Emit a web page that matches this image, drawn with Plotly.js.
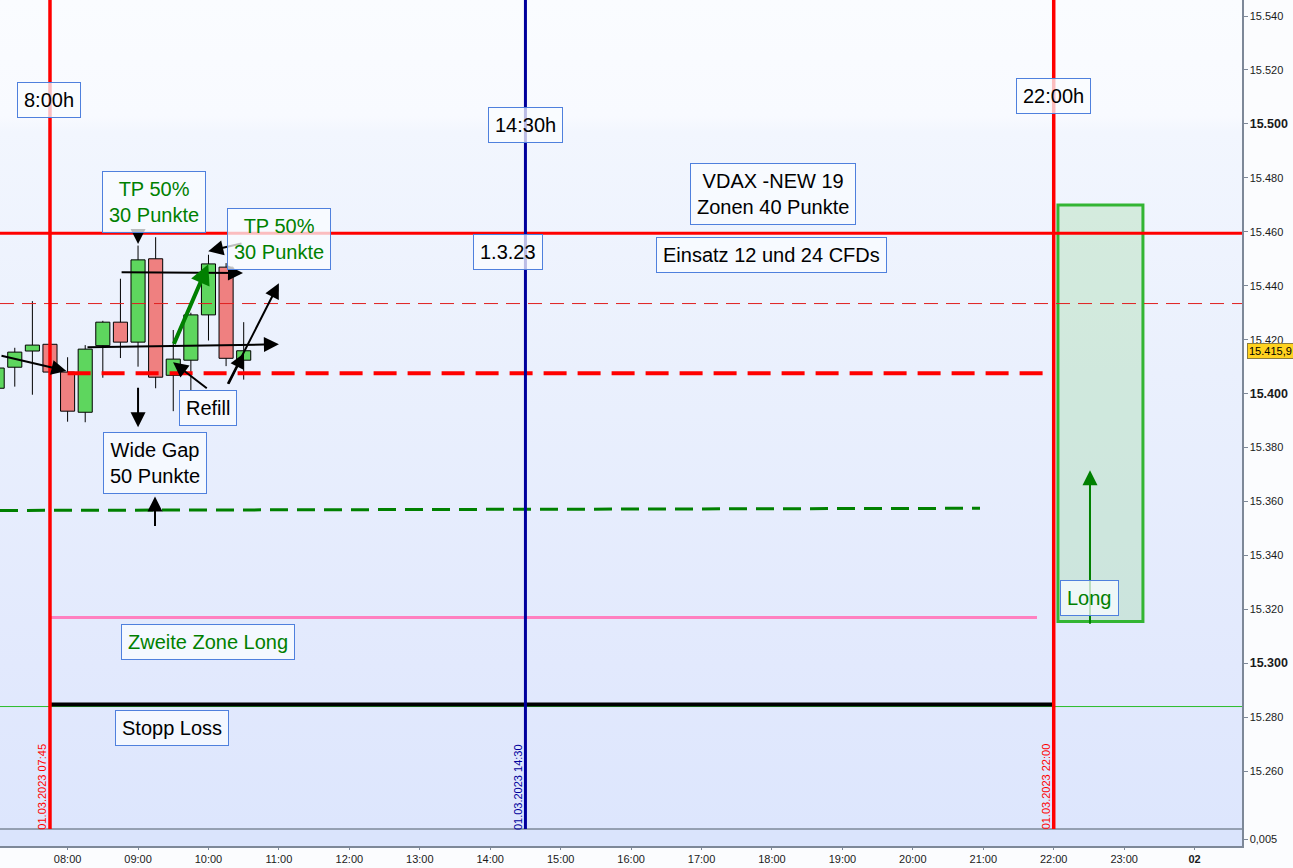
<!DOCTYPE html>
<html><head><meta charset="utf-8">
<script src="https://cdn.plot.ly/plotly-3.0.1.min.js"></script>
<style>
body{margin:0;background:#fbfcfe;}
#wrap{position:relative;width:1293px;height:868px;overflow:hidden;background:#fbfcfe;}
#bg{position:absolute;left:0;top:0;width:1242px;height:829px;background:linear-gradient(to bottom,#fafcff 0%,#f8faff 14%,#f2f6fe 16%,#eaf0fd 45%,#e2e9fd 80%,#dde6fd 100%);}
#bg2{position:absolute;left:0;top:829px;width:1242px;height:17px;background:#dae4fc;}
#chart{position:absolute;left:0;top:0;width:1293px;height:868px;}
</style></head>
<body><div id="wrap"><div id="bg"></div><div id="bg2"></div><div id="chart"></div></div>
<script>
// ---- data ----
const candleTimes = ['2023-03-01 07:00','2023-03-01 07:15','2023-03-01 07:30','2023-03-01 07:45','2023-03-01 08:00','2023-03-01 08:15','2023-03-01 08:30','2023-03-01 08:45','2023-03-01 09:00','2023-03-01 09:15','2023-03-01 09:30','2023-03-01 09:45','2023-03-01 10:00','2023-03-01 10:15','2023-03-01 10:30'];
const opens  = [15402.0,15409.8,15415.8,15418.3,15408.0,15393.1,15417.8,15426.5,15419.1,15450.0,15406.8,15412.4,15429.2,15446.9,15412.4];
const highs  = [15411.0,15417.0,15434.3,15420.0,15413.5,15418.0,15427.0,15442.6,15454.9,15458.0,15423.6,15430.0,15451.5,15448.4,15426.5];
const lows   = [15398.0,15402.6,15399.6,15406.0,15389.6,15389.4,15405.9,15413.2,15410.0,15402.0,15393.5,15401.0,15419.7,15410.2,15405.2];
const closes = [15409.5,15415.4,15418.0,15408.0,15393.5,15416.5,15426.5,15419.1,15449.6,15406.1,15412.8,15429.2,15448.1,15413.1,15415.9];

const yTickVals = [15260,15280,15300,15320,15340,15360,15380,15400,15420,15440,15460,15480,15500,15520,15540];
const B = s => '<span style="font-size:12.5px"><b>' + s + '</b></span>';
const yTickText = ['15.260','15.280',B('15.300'),'15.320','15.340','15.360','15.380',B('15.400'),'15.420','15.440','15.460','15.480',B('15.500'),'15.520','15.540'];
const xTickVals = ['2023-03-01 08:00','2023-03-01 09:00','2023-03-01 10:00','2023-03-01 11:00','2023-03-01 12:00','2023-03-01 13:00','2023-03-01 14:00','2023-03-01 15:00','2023-03-01 16:00','2023-03-01 17:00','2023-03-01 18:00','2023-03-01 19:00','2023-03-01 20:00','2023-03-01 21:00','2023-03-01 22:00','2023-03-01 23:00','2023-03-02 00:00'];
const xTickText = ['08:00','09:00','10:00','11:00','12:00','13:00','14:00','15:00','16:00','17:00','18:00','19:00','20:00','21:00','22:00','23:00','<b>02</b>'];

const lastPrice = 15415.9;
const resistanceLevel = 15459.5;
const thinRedLevel = 15433.4;
const gapLevel = 15407.6;
const greenZoneLevels = [15356.7, 15357.5];
const secondZoneLevel = 15317.0;
const stopLossLevel = 15284.75;
const thinGreenLevel = 15284.0;
const longBoxLevels = [15315.5, 15469.9];
const markerTimes = ['2023-03-01 07:45','2023-03-01 14:30','2023-03-01 22:00'];
const markerLabels = ['01.03.2023 07:45','01.03.2023 14:30','01.03.2023 22:00'];

// ---- layout ----
const PLOT_H = 846;
const D0 = 17/PLOT_H;
const FONT = '"Liberation Sans", Arial, sans-serif';
const RED = '#ff0000', BLUE = '#00009c', GREEN = '#008000';
const CANDLE_MS = 15*60*1000;

// candle bodies (bars) and wicks (line segments outside the body)
const bodyBase = opens.map((o,i)=>Math.min(o, closes[i]));
const bodyLen  = opens.map((o,i)=>Math.max(Math.abs(closes[i]-o), 0.3));
const bodyCol  = opens.map((o,i)=>closes[i] >= o ? '#5ed65e' : '#ef8080');
const wx = [], wy = [];
candleTimes.forEach((t,i)=>{
  const top = Math.max(opens[i], closes[i]), bot = Math.min(opens[i], closes[i]);
  wx.push(t,t,null,t,t,null);
  wy.push(highs[i], top, null, bot, lows[i], null);
});
const bodies = {type:'bar', x:candleTimes, base:bodyBase, y:bodyLen, width:CANDLE_MS*0.8,
  marker:{color:bodyCol, line:{color:'#000', width:1}}, xaxis:'x', yaxis:'y', hoverinfo:'skip', showlegend:false};
const wicks = {type:'scatter', mode:'lines', x:wx, y:wy, line:{color:'#000', width:1}, connectgaps:false,
  xaxis:'x', yaxis:'y', hoverinfo:'skip', showlegend:false};
const dummy = {type:'scatter', x:[markerTimes[0]], y:[0.005], xaxis:'x', yaxis:'y2', mode:'markers', marker:{opacity:0}, hoverinfo:'skip', showlegend:false};

function hline(y0, y1, x0, x1, color, width, dash, xref){
  return {type:'line', xref:xref||'x', yref:'y', x0:x0, x1:x1, y0:y0, y1:y1, line:{color:color, width:width, dash:dash||'solid'}};
}
const shapes = [
  {type:'rect', xref:'x', yref:'y', x0:'2023-03-01 22:03:36', x1:'2023-03-01 23:16:00', y0:longBoxLevels[0], y1:longBoxLevels[1], fillcolor:'rgba(150,215,150,0.3)', line:{color:'#33b533', width:3}},
  hline(resistanceLevel, resistanceLevel, 0, 1, RED, 3, 'solid', 'paper'),
  hline(thinRedLevel, thinRedLevel, 0, 1, '#e02020', 1, '14px,8px', 'paper'),
  hline(gapLevel, gapLevel, '2023-03-01 08:00', '2023-03-01 21:50:54', RED, 4, '23px,11px'),
  hline(greenZoneLevels[0], greenZoneLevels[1], '2023-03-01 07:02:25', '2023-03-01 20:57:12', GREEN, 3, '18px,9px'),
  hline(secondZoneLevel, secondZoneLevel, markerTimes[0], '2023-03-01 21:45:45', '#ff80c0', 3),
  hline(thinGreenLevel, thinGreenLevel, 0, 1, '#2cbc2c', 1, 'solid', 'paper'),
  hline(stopLossLevel, stopLossLevel, markerTimes[0], markerTimes[2], '#000000', 4),
  {type:'line', xref:'paper', yref:'paper', x0:0, x1:1, y0:D0, y1:D0, line:{color:'#7d8898', width:1.5}},
];
const vColors = [RED, BLUE, RED];
markerTimes.forEach((t,i)=>{
  shapes.push({type:'line', xref:'x', yref:'paper', x0:t, x1:t, y0:D0, y1:1, line:{color:vColors[i], width:i===1?3:3.5}});
});

function box(text, x, y, color){
  return {text:text, x:x, y:y, xref:'x', yref:'y', showarrow:false, xanchor:'center', yanchor:'middle',
    font:{family:FONT, size:20, color:color||'#000'}, bgcolor:'rgba(250,252,255,0.75)', bordercolor:'#4f80dd', borderwidth:1, borderpad:6, align:'center'};
}
function arrow(x, y, ax, ay, color, width, size){
  return {text:'', x:x, y:y, ax:ax, ay:ay, xref:'x', yref:'y', axref:'x', ayref:'y', showarrow:true,
    arrowhead:2, arrowsize:size||1.5, arrowwidth:width||2, arrowcolor:color||'#000', standoff:0, startstandoff:0};
}
const d = '2023-03-01 ';
const annotations = [
  arrow(d+'07:59', 15408.4, d+'07:02:25', 15414.2),
  arrow(d+'11:00', 15418.3, d+'08:15:40', 15417.2),
  arrow(d+'11:00', 15440.9, d+'10:15:48', 15403.1),
  arrow(d+'10:30:18', 15415.0, d+'10:16:30', 15403.1),
  arrow(d+'09:29:50', 15411.6, d+'09:59:50', 15401.6),
  arrow(d+'09:00', 15387.5, d+'09:00', 15402.7),
  arrow(d+'09:14:27', 15361.9, d+'09:14:27', 15350.4),
  arrow(d+'09:00', 15455.5, d+'09:00', 15460.2),
  arrow(d+'09:59:50', 15452.8, d+'10:29:24', 15455.8),
  arrow(d+'10:29:24', 15444.7, d+'08:44:43', 15445.0),
  arrow(d+'09:59:50', 15448.0, d+'09:30', 15417.9, GREEN, 4, 1),
  arrow(d+'22:30:54', 15371.6, d+'22:30:54', 15314.1, GREEN, 2, 1.5),
  box('8:00h', d+'07:44:10', 15508.8),
  box('14:30h', d+'14:30', 15499.6),
  box('22:00h', d+'22:00', 15510.3),
  box('TP 50%<br>30 Punkte', d+'09:13:36', 15471.0, GREEN),
  box('TP 50%<br>30 Punkte', d+'11:00', 15457.3, GREEN),
  box('1.3.23', d+'14:15:06', 15452.4),
  box('VDAX -NEW 19<br>Zonen 40 Punkte', d+'18:00:54', 15474.0),
  box('Einsatz 12 und 24 CFDs', d+'17:59:12', 15451.3),
  box('Refill', d+'09:59:36', 15394.6),
  box('Wide Gap<br>50 Punkte', d+'09:14:27', 15374.2),
  box('Zweite Zone Long', d+'09:59:36', 15307.8, GREEN),
  box('Stopp Loss', d+'09:29', 15276.2),
  box('Long', d+'22:30:54', 15324.4, GREEN),
  {text:'15.415,9', x:1, xref:'paper', xanchor:'left', xshift:5, y:lastPrice, yref:'y', yanchor:'middle', showarrow:false,
   bgcolor:'#ffd21f', bordercolor:'#8c7c3c', borderwidth:1, borderpad:1, font:{family:FONT, size:11, color:'#000'}},
];
markerTimes.forEach((t,i)=>{
  annotations.push({text:markerLabels[i], x:t, y:15254.3, xref:'x', yref:'y', xshift:-8, textangle:-90, showarrow:false,
    xanchor:'center', yanchor:'middle', font:{family:FONT, size:11, color:vColors[i]}});
});

const layout = {
  width:1293, height:868, margin:{l:0, r:51, t:0, b:868-PLOT_H},
  paper_bgcolor:'rgba(0,0,0,0)', plot_bgcolor:'rgba(0,0,0,0)',
  showlegend:false, hovermode:false, barmode:'overlay', bargap:0,
  font:{family:FONT, size:11, color:'#1a1a1a'},
  xaxis:{type:'date', range:['2023-03-01 07:02:25','2023-03-02 00:40:23'], anchor:'y2', domain:[0,1],
    tickvals:xTickVals, ticktext:xTickText, ticks:'outside', ticklen:2, tickcolor:'#7d8898',
    showgrid:false, zeroline:false, showline:true, linecolor:'#7d8898', linewidth:1.5,
    tickfont:{family:FONT, size:11, color:'#1a1a1a'}, fixedrange:true},
  yaxis:{domain:[D0,1], range:[15238.6,15545.94], side:'right', anchor:'x', tickvals:yTickVals, ticktext:yTickText,
    ticks:'outside', ticklen:4, tickcolor:'#7d8898', showgrid:false, zeroline:false, showline:true, linecolor:'#7d8898', linewidth:1.5,
    tickfont:{family:FONT, size:11, color:'#1a1a1a'}, fixedrange:true},
  yaxis2:{domain:[0,D0], range:[0.001,0.011], side:'right', anchor:'x', tickvals:[0.005], ticktext:['0,005'],
    ticks:'outside', ticklen:4, tickcolor:'#7d8898', showgrid:false, zeroline:false, showline:true, linecolor:'#7d8898', linewidth:1.5,
    tickfont:{family:FONT, size:11, color:'#1a1a1a'}, fixedrange:true},
  shapes:shapes, annotations:annotations
};
Plotly.newPlot('chart', [bodies, wicks, dummy], layout, {displayModeBar:false, staticPlot:true});
</script>
</body></html>
